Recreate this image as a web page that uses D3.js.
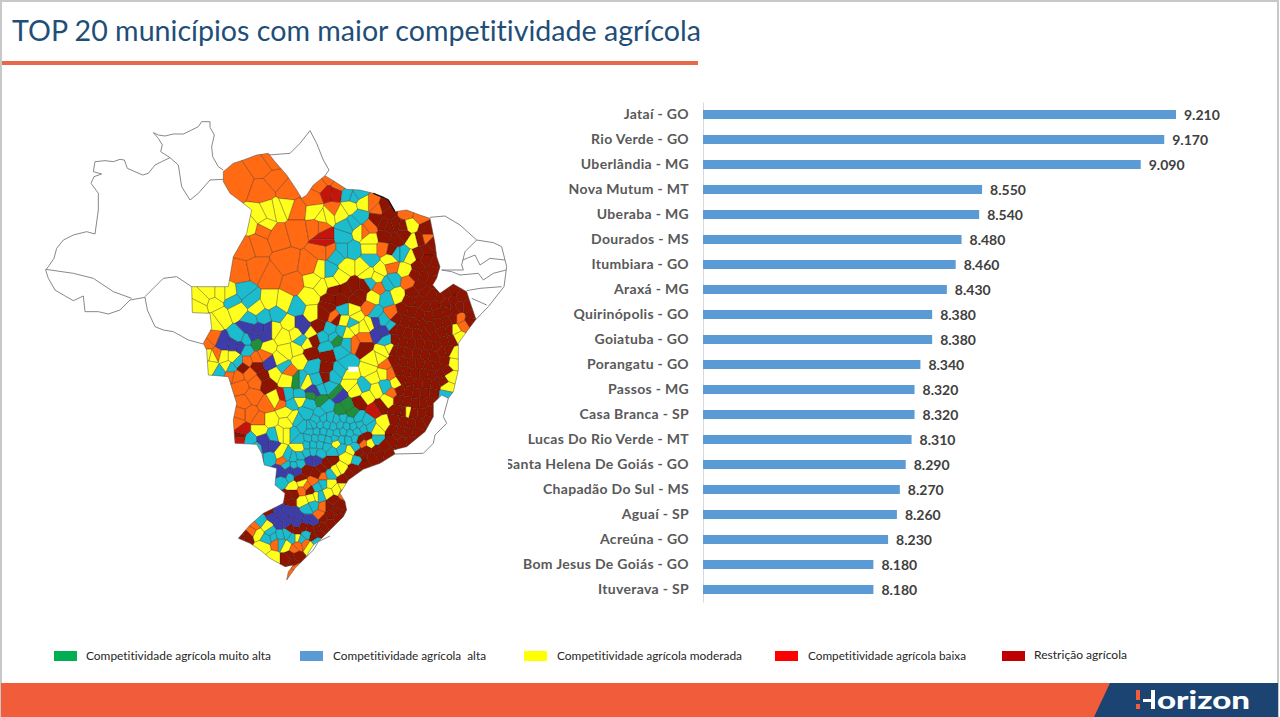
<!DOCTYPE html>
<html>
<head>
<meta charset="utf-8">
<script src="https://cdn.jsdelivr.net/npm/d3@7"></script>
<style>
html, body { margin: 0; background: #fff; overflow: hidden; }
svg { display: block; }
text { font-family: Lato, "Open Sans", sans-serif; font-variant-ligatures: none; }
</style>
</head>
<body>
<div id="chart"></div>
<script>
// Bar chart data
var municipios = ["Jataí - GO", "Rio Verde - GO", "Uberlândia - MG", "Nova Mutum - MT", "Uberaba - MG",
    "Dourados - MS", "Itumbiara - GO", "Araxá - MG", "Quirinópolis - GO", "Goiatuba - GO",
    "Porangatu - GO", "Passos - MG", "Casa Branca - SP", "Lucas Do Rio Verde - MT", "Santa Helena De Goiás - GO",
    "Chapadão Do Sul - MS", "Aguaí - SP", "Acreúna - GO", "Bom Jesus De Goiás - GO", "Ituverava - SP"];
var indices = [9.21, 9.17, 9.09, 8.55, 8.54, 8.48, 8.46, 8.43, 8.38, 8.38,
    8.34, 8.32, 8.32, 8.31, 8.29, 8.27, 8.26, 8.23, 8.18, 8.18];

var legendLabels = ["Competitividade agrícola muito alta", "Competitividade agrícola  alta",
    "Competitividade agrícola moderada", "Competitividade agrícola baixa", "Restrição agrícola"];
var legendColors = ["#00b050", "#5b9bd5", "#ffff00", "#ff0000", "#c00000"];

// Map geometry (planar trace units)
var areaColorida = [[580,185],[610,160],[640,150],[680,135],[715,130],[735,155],[770,195],[800,240],[815,265],[830,255],[850,225],[885,197],[915,215],[950,238],[990,240],[1030,250],[1075,270],[1095,305],[1130,300],[1170,315],[1200,325],[1207,360],[1215,400],[1220,440],[1230,470],[1220,505],[1208,525],[1230,550],[1270,522],[1310,545],[1325,590],[1338,628],[1310,665],[1285,700],[1285,780],[1270,845],[1255,865],[1235,855],[1210,880],[1210,920],[1185,965],[1130,1010],[1090,1020],[1095,1032],[1050,1060],[1000,1078],[955,1110],[930,1150],[945,1175],[950,1200],[940,1220],[900,1260],[870,1290],[850,1305],[825,1345],[795,1375],[770,1410],[775,1385],[790,1365],[765,1370],[720,1345],[690,1320],[660,1300],[625,1285],[660,1245],[700,1210],[760,1180],[765,1150],[735,1125],[740,1075],[703,1065],[695,1030],[680,1003],[615,1000],[610,930],[620,880],[595,800],[535,795],[530,720],[520,700],[545,655],[540,610],[487,608],[485,530],[595,530],[610,440],[650,370],[665,300],[640,280],[600,250],[580,215],[580,185]];
var limitesBrancos = [
    [[580,180],[565,170],[548,140],[545,110],[553,75],[540,52],[540,35],[515,35],[505,50],[485,60],[460,72],[430,72],[405,78],[385,75],[370,68],[385,85],[397,105],[392,125],[420,143],[395,155],[375,165],[355,190],[338,195],[315,185],[292,175],[283,150],[270,148],[250,155],[225,152],[195,155],[190,185],[215,192],[192,200],[183,220],[205,250],[205,300],[195,372],[170,365],[130,375],[100,390],[80,415],[72,445],[55,470],[47,480],[55,505],[75,540],[100,555],[130,572],[160,558],[165,605],[205,605],[235,612],[270,600],[300,570],[345,562],[352,600],[375,650],[400,660],[430,665],[475,690],[520,702]],
    [[47,478],[130,490],[190,505],[250,545],[305,565]],
    [[345,560],[400,505],[440,500],[485,530]],
    [[420,143],[445,165],[455,230],[480,270],[505,250],[540,210],[580,208]],
    [[715,135],[780,130],[810,100],[840,62],[860,100],[880,150],[897,180],[885,197]],
    [[1200,322],[1245,318],[1290,345],[1340,390],[1390,398],[1415,410],[1430,470],[1422,530],[1375,590],[1338,628]],
    [[1340,390],[1305,425],[1295,465],[1300,480],[1235,480]],
    [[1235,480],[1265,485],[1290,495],[1345,490],[1360,510],[1390,490],[1428,480]],
    [[1298,450],[1335,435],[1350,465],[1380,445],[1425,450]],
    [[1310,542],[1350,535],[1415,530]],
    [[1325,565],[1370,585]],
    [[1255,865],[1240,920],[1250,940],[1215,975],[1210,1000],[1180,1030],[1095,1032]],
    [[825,1345],[850,1320],[865,1295],[900,1278]]
];
var costaEscura = [[1030,250],[1060,262],[1075,270],[1095,305]];
var distritoFederal = [[955,770],[985,770],[985,785],[955,785],[955,770]];

// Municipality patches: one seed per patch, grouped by class
var mapaLaranja = [[630,215],[700,240],[697,170],[735,210],[725,150],[775,245],[800,300],[870,225],[925,225],[850,265],[895,205],[910,300],[870,350],
    [630,490],[680,480],[720,500],[680,400],[770,460],[840,470],[745,375],[800,360],[700,355],[860,350],[880,420],[650,410],[895,420],[790,520],
    [1020,350],[1000,365],[1030,280],[1045,295],[1130,310],[1170,317],[1190,385],[1060,415],[1085,470],[1135,515],[1045,535],[1015,595],[1085,610],[915,620],
    [545,685],[530,700],[560,735],[700,735],[680,745],[650,755],[660,790],[620,800],[630,830],[680,815],[600,795],
    [670,860],[640,880],[660,910],[630,910],[710,885],[690,930],[620,940],[755,880],[1000,685],[975,700],[1065,765],[1085,850],[1080,790],[775,785],
    [1300,645],[1290,625],[1000,1000],[880,1100],[760,1050],[830,1130],[815,1140],[850,1115],[675,1250],[668,1262],[740,1300],[805,1305],[825,1300],[785,1390],[800,1375],[790,1318],[870,1215],[880,1190],[940,1150]];
var mapaRestricao = [[950,540],[910,540],[990,555],[930,570],[970,530],[980,570],[900,570],[880,610],[865,650],[850,690],[840,730],[920,625],[1005,530],[895,590],
    [1060,290],[1075,310],[1080,350],[1040,330],[1100,390],[1060,340],[1095,345],[1065,380],[1120,350],[1120,375],[1085,420],[1190,360],[1170,390],[1205,400],[1190,420],[1165,430],[1190,450],[1215,460],[1165,470],[1210,480],[1180,500],[1205,510],[1155,495],[1170,530],[1150,550],
    [1180,545],[1205,560],[1230,565],[1270,540],[1295,560],[1250,550],[1140,575],[1165,570],[1190,590],[1215,585],[1245,580],[1270,570],[1310,590],[1290,590],[1120,600],[1145,605],[1170,615],[1195,620],[1225,610],[1250,605],[1275,600],[1100,625],[1125,635],[1150,640],[1175,645],[1200,650],[1225,640],[1250,635],[1270,625],[1090,655],[1110,660],[1135,670],[1160,670],[1185,675],[1210,680],[1235,665],[1260,660],[1095,690],[1120,695],[1145,700],[1170,700],[1195,705],[1220,710],[1245,695],[1265,690],[1090,720],[1110,725],[1135,730],[1160,730],[1185,735],[1210,740],[1235,725],[1255,720],[1095,750],[1120,755],[1145,760],[1170,760],[1195,765],[1220,770],[1245,755],[1105,780],[1130,785],[1155,790],[1180,790],[1205,795],[1230,790],[1250,780],[1115,810],[1140,815],[1165,820],[1190,820],[1215,825],[1240,815],[1110,840],[1135,845],[1160,850],[1185,850],[1210,850],[1105,870],[1130,875],[1155,880],[1180,880],[1200,875],[1100,900],[1125,905],[1150,910],[1175,910],[1198,905],[1095,930],[1120,935],[1145,940],[1170,940],[1190,930],[1090,960],[1110,965],[1135,970],[1160,965],[1090,990],[1115,995],[1140,990],
    [1320,632],[1325,615],[1050,1030],[1075,1035],[1025,1040],[1000,1060],[1040,1020],[975,1080],[1060,1010],[1010,1020],[960,1095],[940,1110],[990,1030],
    [680,770],[700,800],[640,770],[710,820],[895,735],[888,775],[888,800],[990,875],[1050,890],[1000,710],[990,990],[1010,980],[1100,980],
    [890,1060],[860,1090],[830,1080],[905,1050],[875,1075],[775,1160],[790,1150],[780,1175],[840,1140],[810,1105],
    [910,1170],[925,1185],[895,1190],[920,1200],[900,1215],[880,1225],[925,1225],[900,1240],[880,1250],[860,1255],[840,1255],[820,1250],[800,1260],[780,1255],[865,1270],[850,1280],
    [720,1200],[650,1280],[635,1283],[780,1335],[790,1355],[770,1345],[800,1340],[630,980],[1000,1040]];
var mapaVermelho = [[895,248],[915,250],[885,380],[885,395],[635,960],[630,985],[760,862],[1035,900]];
var mapaAmarelo = [[770,290],[745,300],[690,320],[660,345],[705,345],[720,305],[855,305],[875,320],[895,315],[850,510],[875,530],[870,480],[950,470],[930,500],[905,520],
    [930,310],[960,290],[1000,280],[990,365],[1020,390],[1020,415],[1080,450],[1000,470],[1125,480],[1140,345],[1150,395],[1140,440],[1030,560],[1100,555],[1050,480],[1040,500],[1015,490],
    [550,580],[570,620],[520,570],[540,550],[570,550],[510,590],[550,635],[625,600],[680,595],[600,550],[760,580],[720,575],[840,560],[845,610],[780,640],[760,680],[840,670],[800,670],[730,660],[550,740],[580,740],[530,735],[610,740],[545,770],[590,770],[710,710],[770,725],[810,750],[750,750],[735,790],[770,805],[800,720],[830,700],
    [940,630],[975,650],[980,620],[950,670],[1020,640],[1000,650],[970,600],[1060,725],[1080,715],[1030,750],[1050,745],[830,820],[960,820],[980,840],[1040,840],[1100,820],[1030,800],[1020,780],[1060,790],[960,795],[1010,860],[1130,905],[1075,870],
    [1275,660],[1270,760],[1262,800],[1250,830],[1275,730],[1285,680],[810,865],[735,870],[765,905],[770,940],[750,970],[720,930],[690,960],[790,925],
    [920,1000],[960,1020],[950,1040],[1020,1000],[1040,960],[1060,940],[930,1075],[940,1130],[920,1140],[920,1080],[770,970],[810,1010],[750,1030],[820,1175],[860,1160],[710,1250],[685,1270],[800,1285],[700,1310],[730,1345],[770,1310],[840,1310],[900,1120],[895,1150],[845,1165],[815,1120],[790,1130]];
var mapaTurquesa = [[970,260],[985,250],[955,255],[970,340],[940,380],[990,320],[950,350],[965,420],[940,420],[1020,450],[1100,430],[1120,430],[900,480],[920,440],[1075,520],[1020,520],[1070,565],[1090,510],[940,600],[970,640],[1035,610],[610,570],[660,570],[640,545],[740,610],[660,630],[800,595],[700,620],[625,680],[815,690],[650,720],[625,755],[570,785],[600,775],[650,690],[760,770],
    [910,680],[880,680],[950,700],[890,710],[930,725],[900,660],[935,665],[1060,630],[1070,690],[1085,650],[850,770],[810,810],[930,780],[860,810],[900,830],[870,840],[1000,830],[1065,830],[910,800],[950,760],[810,860],[830,910],[800,930],[870,910],[890,890],[840,880],[780,880],[770,860],[820,950],[790,970],[810,990],[840,950],[730,975],[660,990],[720,1040],[680,1015],[680,1040],[1245,855],
    [860,930],[880,925],[900,925],[920,930],[940,925],[960,930],[985,925],[850,945],[870,945],[890,945],[910,950],[930,945],[950,950],[970,950],[990,945],[1010,935],[840,965],[860,965],[880,965],[900,970],[920,970],[940,965],[960,970],[980,965],[1000,955],[1020,950],[835,985],[855,985],[875,985],[895,990],[915,985],[935,990],[955,990],[975,985],[830,1005],[850,1005],[870,1005],[890,1010],[905,1025],[935,1015],[850,1025],[870,1030],[830,1030],[810,1040],[790,1045],[770,1040],[810,1060],[790,1065],[770,1065],[975,1010],[985,1050],[1040,990],
    [760,1110],[775,1100],[880,1120],[860,1130],[900,1095],[850,1185],[830,1195],[870,1160],[690,1235],[730,1280],[770,1270],[830,1275],[750,1300],[710,1285],[860,1295],[790,1285],[750,1275],[815,1290],[720,1265]];
var mapaVioleta = [[685,660],[700,680],[670,680],[720,660],[655,650],[630,710],[610,705],[580,700],[810,640],[820,655],[720,760],[845,840],[860,845],[925,855],[1045,670],[1035,635],[1060,665],[710,1010],[700,990],[725,1010],[840,1050],[860,1050],[780,1080],[750,1085],[800,1085],[765,1095],
    [760,1220],[790,1210],[730,1220],[750,1240],[770,1240],[810,1225],[830,1230],[740,1205],[775,1200],[800,1240],[850,1235]];
var mapaVerde = [[920,690],[805,810],[845,855],[872,870],[935,900],[965,910],[920,850],[950,890],[680,700]];

var mapaClasses = [
    { seeds: mapaLaranja, color: "#ff6a13" },
    { seeds: mapaRestricao, color: "#8c1400" },
    { seeds: mapaVermelho, color: "#c4150c" },
    { seeds: mapaAmarelo, color: "#ffff1e" },
    { seeds: mapaTurquesa, color: "#1cbccf" },
    { seeds: mapaVioleta, color: "#3d3cab" },
    { seeds: mapaVerde, color: "#1f8f3c" }
];

var svg = d3.select("#chart").append("svg")
    .attr("width", 1280)
    .attr("height", 717);

// Slide frame
svg.append("rect").attr("width", 1280).attr("height", 717).attr("fill", "#fff");
svg.append("path").attr("d", "M1,717V1H1278V717").attr("fill", "none").attr("stroke", "#c8c8c8").attr("stroke-width", 2);

svg.append("text")
    .attr("x", 12).attr("y", 41)
    .attr("textLength", 689).attr("lengthAdjust", "spacingAndGlyphs")
    .attr("font-size", 28)
    .attr("fill", "#1f4e79")
    .text("TOP 20 municípios com maior competitividade agrícola");
svg.append("rect").attr("x", 2).attr("y", 61).attr("width", 696).attr("height", 4).attr("fill", "#e8694a");

// Map
var mapProjection = d3.geoIdentity().scale(1 / 3).translate([30, 110]);
var mapPath = d3.geoPath(mapProjection);
var mapG = svg.append("g").attr("class", "map");

svg.append("clipPath").attr("id", "map-clip").append("path")
    .attr("d", mapPath({ type: "Polygon", coordinates: [areaColorida] }));

mapG.selectAll(".limite")
    .data(limitesBrancos)
    .enter().append("path")
    .attr("class", "limite")
    .attr("fill", "none")
    .attr("stroke", "#7a7a7a")
    .attr("stroke-width", 0.9)
    .attr("d", function(d) { return mapPath({ type: "LineString", coordinates: d }); });

var patches = [];
mapaClasses.forEach(function(c) {
    c.seeds.forEach(function(s) { patches.push({ seed: s, color: c.color }); });
});
var voronoi = d3.Delaunay.from(patches, function(d) { return d.seed[0]; }, function(d) { return d.seed[1]; })
    .voronoi([440, 20, 1440, 1420]);

mapG.append("g").attr("clip-path", "url(#map-clip)")
    .selectAll(".municipio")
    .data(patches)
    .enter().append("path")
    .attr("class", "municipio")
    .attr("fill", function(d) { return d.color; })
    .attr("stroke", "#2a120a")
    .attr("stroke-opacity", 0.7)
    .attr("stroke-width", 0.4)
    .attr("d", function(d, i) { return mapPath({ type: "Polygon", coordinates: [voronoi.cellPolygon(i)] }); });

mapG.append("path")
    .attr("fill", "none").attr("stroke", "#4a4a4a").attr("stroke-width", 0.5)
    .attr("d", mapPath({ type: "Polygon", coordinates: [areaColorida] }));
mapG.append("path")
    .attr("fill", "none").attr("stroke", "#111").attr("stroke-width", 1.2)
    .attr("d", mapPath({ type: "LineString", coordinates: costaEscura }));
mapG.append("path")
    .attr("fill", "#fff")
    .attr("d", mapPath({ type: "Polygon", coordinates: [distritoFederal] }));

// Bars
var x = d3.scaleLinear().domain([7.6, 9.21]).range([703, 1176]);
var y = d3.scaleBand().domain(municipios).range([102, 602]).paddingInner(0.64).paddingOuter(0.32);

svg.append("clipPath").attr("id", "label-clip").append("rect")
    .attr("x", -195).attr("y", 90).attr("width", 300).attr("height", 530);

var barG = svg.append("g");
var yAxis = d3.axisLeft(y).tickSize(0).tickPadding(14);
var yAxisG = barG.append("g").attr("transform", "translate(703,0)").attr("clip-path", "url(#label-clip)").call(yAxis);
yAxisG.select(".domain").attr("stroke", "#d9d9d9");
yAxisG.selectAll("text")
    .attr("font-family", "Lato, sans-serif")
    .attr("font-size", 14)
    .attr("font-weight", 700)
    .attr("letter-spacing", 0.32)
    .attr("fill", "#595959");

barG.selectAll(".bar")
    .data(indices)
    .enter().append("rect")
    .attr("class", "bar")
    .attr("x", x(7.6))
    .attr("y", function(d, i) { return y(municipios[i]); })
    .attr("width", function(d) { return x(d) - x(7.6); })
    .attr("height", y.bandwidth())
    .attr("fill", "#5b9bd5");

var fmt = d3.format(".3f");
barG.selectAll(".valor")
    .data(indices)
    .enter().append("text")
    .attr("class", "valor")
    .attr("x", function(d) { return x(d) + 8; })
    .attr("y", function(d, i) { return y(municipios[i]) + y.bandwidth() / 2 + 5; })
    .attr("font-size", 14)
    .attr("font-weight", 700)
    .attr("fill", "#404040")
    .text(function(d) { return fmt(d); });

// Legend
var legendX = d3.scaleOrdinal().domain(legendLabels).range([54, 300, 524, 775, 1002]);
var legendWidths = d3.scaleOrdinal().domain(legendLabels).range([185, 153, 185, 158, 93]);
var legendG = svg.append("g").selectAll("g")
    .data(legendLabels)
    .enter().append("g")
    .attr("transform", function(d) { return "translate(" + legendX(d) + ",651)"; });
legendG.append("rect")
    .attr("width", 23).attr("height", 10)
    .attr("fill", function(d, i) { return legendColors[i]; });
legendG.append("text")
    .attr("x", function(d, i) { return i === 4 ? 32 : i === 0 ? 32 : 33; })
    .attr("y", function(d, i) { return i === 4 ? 8 : 9; })
    .attr("font-size", 12)
    .attr("fill", "#262626")
    .style("white-space", "pre")
    .attr("textLength", function(d) { return legendWidths(d); })
    .attr("lengthAdjust", "spacingAndGlyphs")
    .text(function(d) { return d; });

// Footer band and logo
svg.append("rect").attr("x", 1).attr("y", 683).attr("width", 1277).attr("height", 34).attr("fill", "#f15d3b");
svg.append("path").attr("d", "M1110,683H1278V717H1094Z").attr("fill", "#1b4472");
svg.append("rect").attr("x", 1136).attr("y", 690).attr("width", 4).attr("height", 10).attr("fill", "#f15d3b");
svg.append("rect").attr("x", 1136).attr("y", 704).attr("width", 4).attr("height", 5).attr("fill", "#f15d3b");
svg.append("rect").attr("x", 1143).attr("y", 699).attr("width", 8).attr("height", 3).attr("fill", "#fff");
svg.append("rect").attr("x", 1151).attr("y", 690).attr("width", 4).attr("height", 19).attr("fill", "#fff");
svg.append("text")
    .attr("x", 1157).attr("y", 709)
    .attr("font-size", 25).attr("font-weight", 900)
    .attr("fill", "#fff")
    .attr("textLength", 93).attr("lengthAdjust", "spacingAndGlyphs")
    .text("orizon");
</script>
</body>
</html>
